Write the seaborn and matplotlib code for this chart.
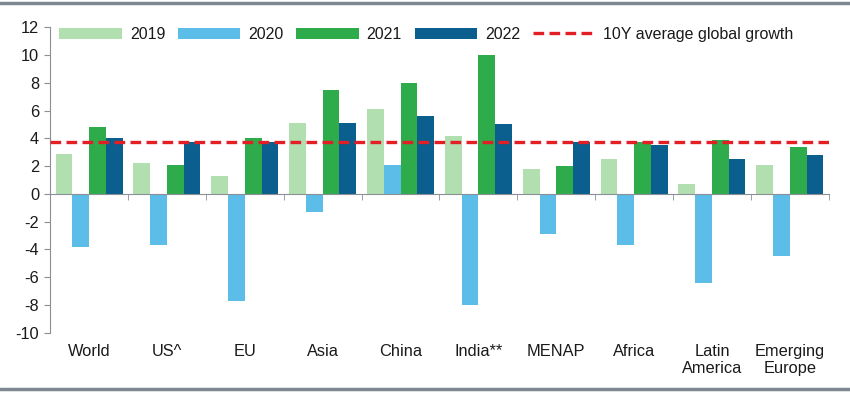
import seaborn as sns
import matplotlib.pyplot as plt
import matplotlib.lines as mlines
import pandas as pd
import numpy as np

# -----------------------------
# Data
# -----------------------------
regions = ["World", "US^", "EU", "Asia", "China", "India**", "MENAP", "Africa",
           "Latin\nAmerica", "Emerging\nEurope"]
years = ["2019", "2020", "2021", "2022"]
g2019 = [2.9, 2.2, 1.3, 5.1, 6.1, 4.2, 1.8, 2.5, 0.7, 2.1]
g2020 = [-3.8, -3.7, -7.7, -1.3, 2.1, -8.0, -2.9, -3.7, -6.4, -4.5]
g2021 = [4.8, 2.1, 4.0, 7.5, 8.0, 10.0, 2.0, 3.7, 3.9, 3.4]
g2022 = [4.0, 3.7, 3.7, 5.1, 5.6, 5.0, 3.7, 3.5, 2.5, 2.8]
avg_10y = 3.7
yticks = list(range(-10, 13, 2))

colors = {"2019": "#b2dfb0", "2020": "#5bbde8", "2021": "#2eac4b", "2022": "#0b5f8e"}

df = pd.DataFrame({
    "Region": regions * 4,
    "Year": sum([[y] * len(regions) for y in years], []),
    "Growth": g2019 + g2020 + g2021 + g2022,
})

# -----------------------------
# Visualization
# -----------------------------
sns.set_style("white")
plt.rcParams["font.family"] = ["Liberation Sans", "DejaVu Sans"]
plt.rcParams["axes.unicode_minus"] = False

fig = plt.figure(figsize=(8.5, 3.93), dpi=100)
ax = fig.add_axes([0.059, 0.153, 0.916, 0.778])

sns.barplot(data=df, x="Region", y="Growth", hue="Year", palette=colors,
            saturation=1, width=0.86, gap=0, errorbar=None, ax=ax,
            linewidth=0, edgecolor="none")

ax.axhline(avg_10y, color="#e31e24", lw=2.4, ls=(0, (3.2, 1.6)),
           label="10Y average global growth", zorder=5)

ax.set_ylim(-10, 12)
ax.set_xlim(-0.5, len(regions) - 0.5)
ax.set_yticks(yticks)
ax.set_xlabel("")
ax.set_ylabel("")

axis_col = "#8a9096"
fs = 11.8
txt_col = "#1a1a1a"
for s in ["top", "right"]:
    ax.spines[s].set_visible(False)
ax.spines["left"].set_color(axis_col)
ax.spines["bottom"].set_color(axis_col)
ax.spines["bottom"].set_position(("data", 0))
ax.spines["bottom"].set_zorder(6)

ax.tick_params(axis="y", which="major", direction="out", length=4, color=axis_col,
               labelsize=fs, pad=4, left=True, labelcolor=txt_col)
ax.set_xticks(np.arange(-0.5, len(regions), 1), minor=True)
ax.tick_params(axis="x", which="minor", direction="out", length=4, color=axis_col, bottom=True)
ax.tick_params(axis="x", which="major", length=0, labelbottom=False)

# category labels at the bottom of the plot area
sec = ax.secondary_xaxis(0)
sec.set_xticks(range(len(regions)))
sec.set_xticklabels(regions)
sec.tick_params(length=0, labelsize=fs, pad=8, labelcolor=txt_col)
sec.spines["bottom"].set_visible(False)

handles, labels = ax.get_legend_handles_labels()
leg = ax.legend(handles, labels, loc="upper left", bbox_to_anchor=(0.012, 1.0), ncol=5,
                frameon=False, fontsize=11.5, handlelength=3.9, handleheight=0.75,
                handletextpad=0.5, columnspacing=0.8, borderaxespad=0, borderpad=0)
for t in leg.get_texts():
    t.set_color(txt_col)

# grey rules at top and bottom of the figure
for yy in [0.992, 0.01]:
    fig.add_artist(mlines.Line2D([0, 1], [yy, yy], color="#7f8890", lw=2.5,
                                 transform=fig.transFigure))

plt.savefig("out.png", dpi=100)
plt.close()
